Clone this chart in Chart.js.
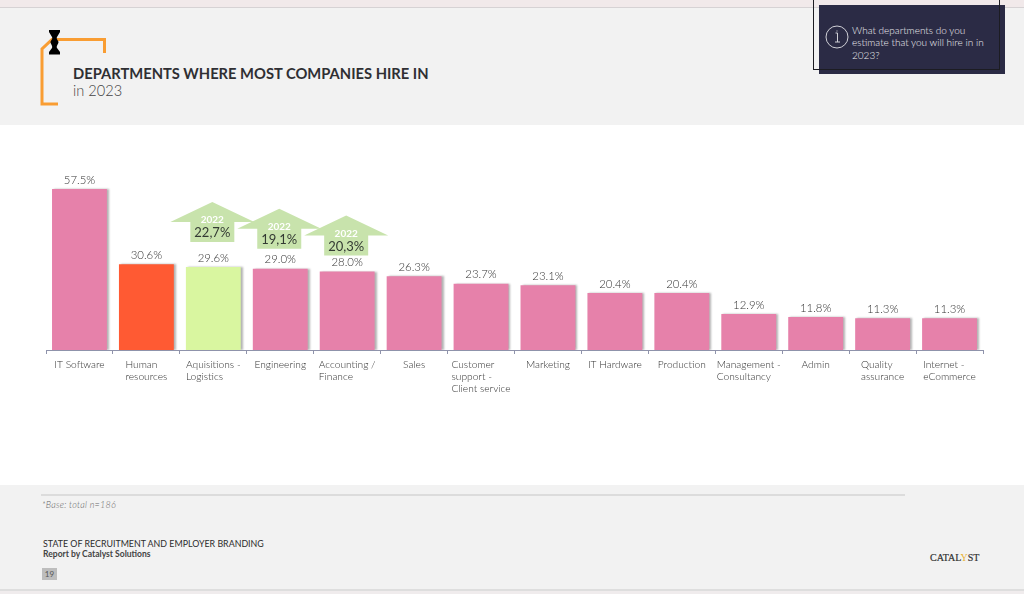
<!DOCTYPE html>
<html>
<head>
<meta charset="utf-8">
<style>
html, body { margin: 0; padding: 0; }
body { width: 1024px; height: 594px; overflow: hidden; position: relative; background: #f2f2f2; font-family: Lato, sans-serif; }
.abs { position: absolute; white-space: nowrap; }
#topStrip { left: 0; top: 0; width: 1024px; height: 7px; background: #f1e9ea; border-bottom: 1px solid #d6d2d4; }
#bottomStrip { left: 0; top: 589px; width: 1024px; height: 5px; background: #f0eced; border-top: 2px solid #dedede; box-sizing: border-box; }
#band { left: 0; top: 125px; width: 1024px; height: 360px; background: #fff; }
#chartBox { left: 0; top: 125px; width: 1024px; height: 360px; }
#title { left: 73px; top: 65px; font-size: 14.72px; font-weight: 700; color: #2f2f33; line-height: 17px; }
#subtitle { left: 73px; top: 82px; font-size: 14.6px; font-weight: 300; color: #444; line-height: 18px; }
#infoBox { left: 819px; top: 5px; width: 186px; height: 69px; background: #2b2b45; }
#infoFrame { left: 812.5px; top: -2px; width: 185.5px; height: 70px; border: 1.5px solid #1c1c22; }
#infoText { left: 852px; top: 23.5px; font-size: 10px; font-weight: 300; line-height: 12.5px; color: #eeeef2; }
#rule { left: 41px; top: 494px; width: 864px; height: 2px; background: #dcdcdc; }
#base { left: 42px; top: 499px; font-size: 9px; font-style: italic; font-weight: 300; color: #666; letter-spacing: 0.25px; }
#report { left: 43px; top: 538px; font-size: 8.85px; color: #2c2c2c; }
#by { left: 43px; top: 549px; font-size: 8.55px; font-weight: 700; color: #444; }
#page { left: 42px; top: 568px; width: 15px; height: 12px; background: #bdbdbd; color: #555; font-size: 8px; line-height: 12px; text-align: center; }
#logo { left: 930px; top: 552px; font-family: "Liberation Serif", serif; font-size: 10px; color: #333; -webkit-text-stroke: 0.2px #333; }
#logo span { color: #e8b030; -webkit-text-stroke: 0; }
</style>
</head>
<body>
<div class="abs" id="topStrip"></div>
<div class="abs" id="band"></div>
<div class="abs" id="chartBox"><canvas id="deptChart" width="1024" height="360"></canvas></div>

<svg class="abs" style="left:0;top:0" width="120" height="110">
  <polyline points="58,104 42,104 42,49 52,39.5 104.5,39.5 104.5,53" fill="none" stroke="#f99d33" stroke-width="3"/>
  <path d="M49,30 H60 V32 L57,37 C56,39 58,40 58.5,42 C58.5,44 56,46 57,48 L60,52 V54.5 H49 V52 L52,48 C53,46 50.5,44 50.5,42 C51,40 53,39 52,37 L49,32 Z" fill="#000"/>
</svg>
<div class="abs" id="title">DEPARTMENTS WHERE MOST COMPANIES HIRE IN</div>
<div class="abs" id="subtitle">in 2023</div>

<div class="abs" id="infoBox"></div>
<div class="abs" id="infoFrame"></div>
<svg class="abs" style="left:825px;top:25px" width="24" height="24">
  <circle cx="12" cy="12" r="11" fill="none" stroke="#cfcfd6" stroke-width="1"/>
  <path d="M10.5,8 H12.5 V17 M10,17 H15 M12,5.5 V6.5" fill="none" stroke="#cfcfd6" stroke-width="1"/>
</svg>
<div class="abs" id="infoText">What departments do you<br>estimate that you will hire in in<br>2023?</div>

<div class="abs" id="rule"></div>
<div class="abs" id="base">*Base: total n=186</div>
<div class="abs" id="report">STATE OF RECRUITMENT AND EMPLOYER BRANDING</div>
<div class="abs" id="by">Report by Catalyst Solutions</div>
<div class="abs" id="page">19</div>
<div class="abs" id="logo">CATAL<span>Y</span>ST</div>
<div class="abs" id="bottomStrip"></div>

<script src="https://cdn.jsdelivr.net/npm/chart.js@4"></script>
<script>
// Data
const departments = [
    ['IT Software'], ['Human', 'resources'], ['Aquisitions -', 'Logistics'], ['Engineering'],
    ['Accounting /', 'Finance'], ['Sales'], ['Customer', 'support -', 'Client service'], ['Marketing'],
    ['IT Hardware'], ['Production'], ['Management -', 'Consultancy'], ['Admin'],
    ['Quality', 'assurance'], ['Internet -', 'eCommerce']
];
const hires2023 = [57.5, 30.6, 29.6, 29.0, 28.0, 26.3, 23.7, 23.1, 20.4, 20.4, 12.9, 11.8, 11.3, 11.3];
const hires2022 = [null, null, '22,7%', '19,1%', '20,3%', null, null, null, null, null, null, null, null, null];

// Styles
const PINK = '#e681aa';
const barColors = [PINK, '#ff5a33', '#d9f6a0', PINK, PINK, PINK, PINK, PINK, PINK, PINK, PINK, PINK, PINK, PINK];
const arrowLift = [0, 0, 25, 20, 16, 0, 0, 0, 0, 0, 0, 0, 0, 0];
const TEXT_COLOR = '#333';

// Soft shadow on the right side of the bars
const barShadow = {
    id: 'barShadow',
    beforeDatasetsDraw(chart) {
        const ctx = chart.ctx;
        ctx.save();
        ctx.shadowColor = 'rgba(0,0,0,0.3)';
        ctx.shadowBlur = 2;
        ctx.shadowOffsetX = 2;
        ctx.shadowOffsetY = 0;
    },
    afterDatasetsDraw(chart) {
        chart.ctx.restore();
    }
};

// Value labels, category labels and the 2022 arrows
const annotations = {
    id: 'annotations',
    afterDraw(chart) {
        const ctx = chart.ctx;
        const xScale = chart.scales.x;
        const yScale = chart.scales.y;
        ctx.save();
        ctx.textBaseline = 'middle';

        // arrows first, so neighbours overlap the same way as the slide
        hires2022.forEach((label, i) => {
            if (!label) return;
            const cx = xScale.getPixelForValue(i) - 1;
            const bottom = yScale.getPixelForValue(hires2023[i]) - arrowLift[i];
            ctx.fillStyle = '#c8e3ac';
            ctx.beginPath();
            ctx.moveTo(cx, bottom - 40);
            ctx.lineTo(cx + 42, bottom - 20);
            ctx.lineTo(cx + 22, bottom - 20);
            ctx.lineTo(cx + 22, bottom);
            ctx.lineTo(cx - 22, bottom);
            ctx.lineTo(cx - 22, bottom - 20);
            ctx.lineTo(cx - 42, bottom - 20);
            ctx.closePath();
            ctx.fill();
        });
        hires2022.forEach((label, i) => {
            if (!label) return;
            const cx = xScale.getPixelForValue(i) - 1;
            const bottom = yScale.getPixelForValue(hires2023[i]) - arrowLift[i];
            ctx.textAlign = 'center';
            ctx.fillStyle = '#fff';
            ctx.font = '700 10px Lato';
            ctx.fillText('2022', cx, bottom - 22);
            ctx.fillStyle = '#333a33';
            ctx.font = '13px Lato';
            ctx.fillText(label, cx, bottom - 9);
        });

        // values above the bars
        ctx.fillStyle = TEXT_COLOR;
        ctx.font = '300 11.4px Lato';
        ctx.textAlign = 'center';
        hires2023.forEach((v, i) => {
            ctx.fillText(v.toFixed(1) + '%', xScale.getPixelForValue(i), yScale.getPixelForValue(v) - 9);
        });

        // category labels: a block centred under the bar, lines left aligned
        ctx.font = '300 10.2px Lato';
        ctx.textAlign = 'left';
        departments.forEach((lines, i) => {
            const widest = Math.max(...lines.map(l => ctx.measureText(l).width));
            const left = xScale.getPixelForValue(i) - widest / 2;
            lines.forEach((line, n) => {
                ctx.fillText(line, left, yScale.bottom + 14.5 + n * 12);
            });
        });
        ctx.restore();
    }
};

const ctx = document.getElementById('deptChart').getContext('2d');
new Chart(ctx, {
    type: 'bar',
    data: {
        labels: departments,
        datasets: [{
            data: hires2023,
            backgroundColor: barColors,
            borderWidth: 0,
            barPercentage: 0.82,
            categoryPercentage: 1
        }]
    },
    options: {
        responsive: false,
        animation: false,
        layout: { padding: { left: 46, right: 41, top: 29, bottom: 131 } },
        plugins: { legend: { display: false }, tooltip: { enabled: false } },
        scales: {
            x: {
                border: { color: '#8f93ab', width: 1 },
                grid: { display: true, drawOnChartArea: false, drawTicks: true, tickLength: 4, color: '#8f93ab' },
                ticks: { display: false }
            },
            y: { display: false, min: 0, max: 70 }
        }
    },
    plugins: [barShadow, annotations]
});
</script>
</body>
</html>
